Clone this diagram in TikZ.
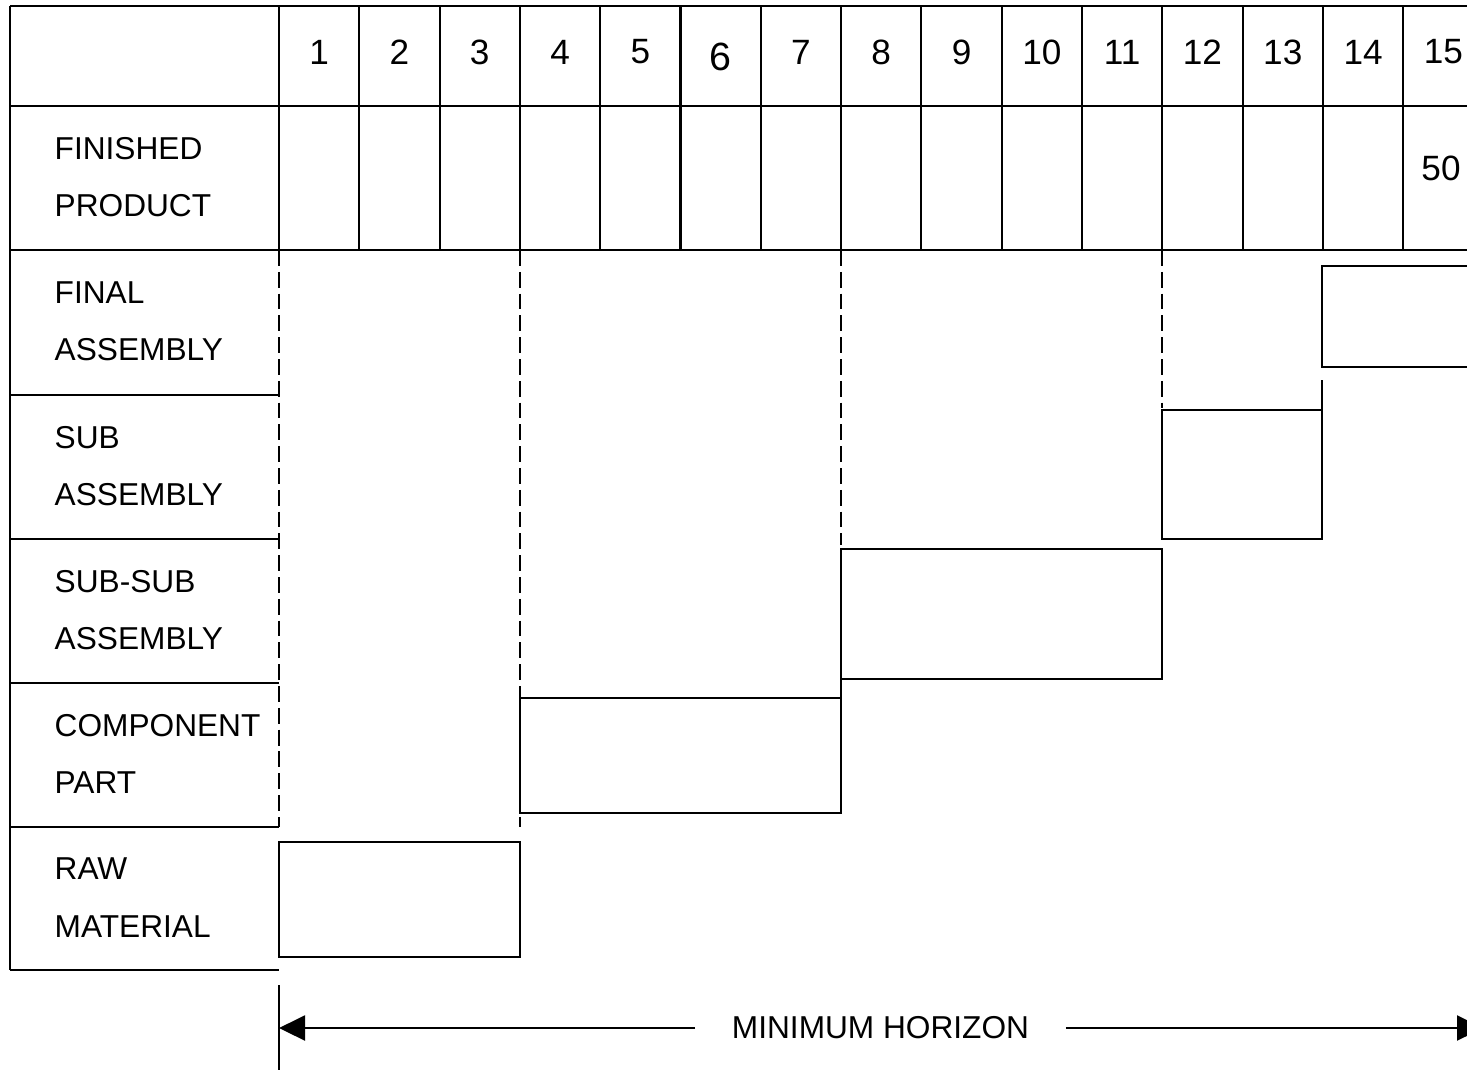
\documentclass[tikz,border=0pt]{standalone}
\usepackage{fontspec}
\setmainfont{Liberation Sans}
\usetikzlibrary{arrows.meta, positioning}

\begin{document}
\begin{tikzpicture}[
  x=0.01cm, y=-0.01cm,
  every node/.style={inner sep=0pt},
  grid/.style={line width=0.6pt},
  guide/.style={line width=0.6pt, dash pattern=on 4.5pt off 1.7pt},
  lbl/.style={font=\fontsize{9}{16.3}\selectfont, align=left, anchor=west},
  num/.style={font=\fontsize{10}{12}\selectfont},
  arr/.style={-{Triangle[length=0.26cm, width=0.25cm]}, line width=0.6pt},
]
  \useasboundingbox (0,0) rectangle (1467,1069);
  \clip (0,0) rectangle (1467,1069);

  % table frame
  \foreach \y in {6, 106, 250}
    \draw[grid] (10,\y) -- (1483,\y);
  \foreach \y in {395, 539, 683, 827, 970}
    \draw[grid] (10,\y) -- (279,\y);
  \draw[grid] (10,6) -- (10,970);
  \foreach \i in {0,...,14}
    \draw[grid] ({279+80.3*\i},6) -- ({279+80.3*\i},250);

  % period numbers
  \foreach \i in {1,2,3,4,5,7,8,9,10,11,12,13,14,15}
    \node[num] (c\i) at ({279+80.3*(\i-0.5)},52) {\i};
  \node[num, font=\fontsize{11.2}{13}\selectfont] (c6) at ({279+80.3*5.5},57) {6};
  \node[num] (qty) at (1441,168) {50};

  % row labels
  \node[lbl] (fp)  at (54,177)   {FINISHED\\PRODUCT};
  \node[lbl] (fa)  at (54,321.5) {FINAL\\ASSEMBLY};
  \node[lbl] (sa)  at (54,466)   {SUB\\ASSEMBLY};
  \node[lbl] (ssa) at (54,610)   {SUB-SUB\\ASSEMBLY};
  \node[lbl] (cp)  at (54,754)   {COMPONENT\\PART};
  \node[lbl] (rm)  at (54,897.5) {RAW\\MATERIAL};

  % lead time guides
  \draw[guide] (279,250) -- (279,827);
  \draw[guide] (520,250) -- (520,827);
  \draw[guide] (841,250) -- (841,545);
  \draw[guide] (1162,250) -- (1162,408);
  \draw[grid] (841,679) -- (841,698);
  \draw[grid] (1322,380) -- (1322,410);

  % lead time bars
  \draw[grid] (279,842) rectangle (520,957);
  \draw[grid] (520,698) rectangle (841,813);
  \draw[grid] (841,549) rectangle (1162,679);
  \draw[grid] (1162,410) rectangle (1322,539);
  \draw[grid] (1322,266) rectangle (1483,367);

  % horizon
  \node[font=\fontsize{9}{10}\selectfont, inner xsep=0.36cm, inner ysep=2pt]
    (horizon) at (880.5,1028) {MINIMUM HORIZON};
  \coordinate (hl) at (279,1028);
  \coordinate (hr) at (1483,1028);
  \draw[grid] (279,985) -- (279,1075);
  \draw[arr] (horizon) -- (hl);
  \draw[arr] (horizon) -- (hr);
\end{tikzpicture}
\end{document}
